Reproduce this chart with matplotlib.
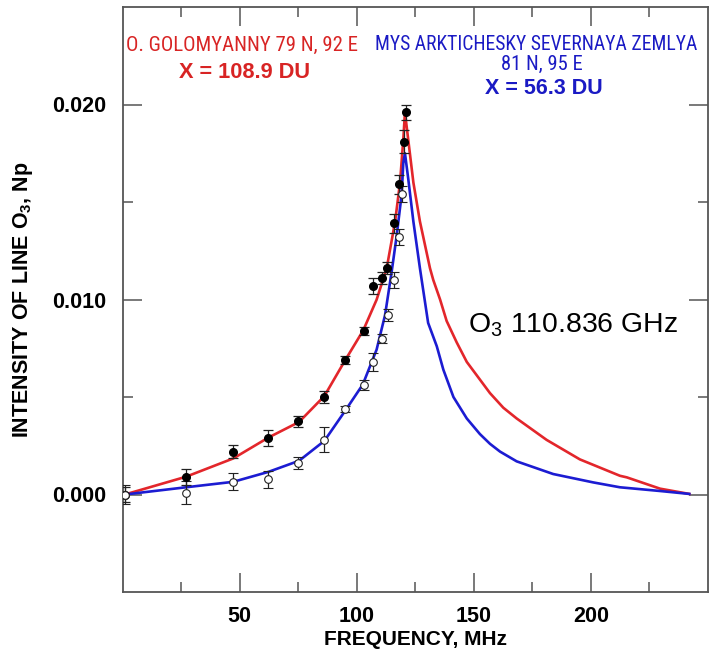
import matplotlib
matplotlib.use("Agg")
import matplotlib.pyplot as plt
from matplotlib import font_manager as fm
from matplotlib.ticker import FixedLocator

# ---------------- data ----------------
red_curve_x = [1, 27.1, 47.3, 62.3, 75.4, 86.2, 95.0, 102.8, 108.5, 112.8, 116.4, 118.5, 119.9, 120.6,
               122.0, 124.2, 127.0, 131.3, 132.7, 135.6, 138.4, 142.7, 147.0, 156.9, 162.6, 168.3,
               181.1, 195.3, 212.4, 215.3, 229.5, 242.0]
red_curve_y = [0.0, 0.00091, 0.00185, 0.00292, 0.00372, 0.00505, 0.00687, 0.00842, 0.00999, 0.0116,
               0.0140, 0.0160, 0.0182, 0.0196,
               0.0182, 0.0160, 0.0140, 0.0116, 0.0110, 0.0100, 0.0089, 0.0078, 0.0068, 0.0052,
               0.00445, 0.0039, 0.0028, 0.0018, 0.00096, 0.00088, 0.0003, 0.00003]

blue_curve_x = [1, 27.1, 47.3, 62.3, 75.4, 86.2, 95.0, 102.6, 108.5, 112.1, 114.9, 117.1, 119.2, 119.9,
                120.6, 122.0, 124.2, 127.0, 130.5, 134.2, 137.0, 141.3, 147.0, 152.6, 156.9, 161.2,
                168.3, 183.9, 201.0, 212.4, 229.5, 242.0]
blue_curve_y = [0.0, 0.00037, 0.00065, 0.00116, 0.00173, 0.00275, 0.00428, 0.00564, 0.00743, 0.0092,
                0.0114, 0.0133, 0.0154, 0.0170, 0.0175, 0.0162, 0.0140, 0.0116, 0.0088, 0.0076,
                0.0064, 0.0050, 0.0039, 0.0031, 0.0026, 0.0022, 0.0017, 0.00105, 0.00062, 0.00037,
                0.00018, 0.00003]

red_x = [1, 27, 47, 62, 75, 86, 95, 103, 107, 111, 113, 116, 118, 120, 121]
red_y = [0.0000, 0.0009, 0.0022, 0.0029, 0.00375, 0.0050, 0.0069, 0.0084, 0.0107, 0.0111, 0.0116,
         0.0139, 0.0159, 0.0181, 0.0196]
red_err = [0.0004, 0.0004, 0.00035, 0.0004, 0.0003, 0.0003, 0.0002, 0.0002, 0.0004, 0.0003, 0.0003,
           0.0005, 0.0005, 0.0006, 0.0004]

blue_x = [1, 27, 47, 62, 75, 86, 95, 103, 107, 111, 113.5, 116, 118, 119.5]
blue_y = [0.0000, 0.0001, 0.00065, 0.00078, 0.0016, 0.0028, 0.0044, 0.0056, 0.0068, 0.0080, 0.0092,
          0.0110, 0.0132, 0.0154]
blue_err = [0.0005, 0.0006, 0.00043, 0.00043, 0.0003, 0.00064, 0.00015, 0.00025, 0.00047, 0.00025,
            0.0003, 0.0004, 0.0004, 0.0004]

x_major = [50, 100, 150, 200]
x_minor = [25, 75, 125, 175, 225]
y_major = [0.000, 0.010, 0.020]
y_minor = [0.005, 0.015]
y_labels = ["0.000", "0.010", "0.020"]

# ---------------- fonts ----------------
def has_font(name):
    try:
        fm.findfont(fm.FontProperties(family=name), fallback_to_default=False)
        return True
    except Exception:
        return False

BASE = "Liberation Sans" if has_font("Liberation Sans") else "DejaVu Sans"
NARROW = BASE
for cand in ["Liberation Sans Narrow", "DejaVu Sans Condensed", "Roboto Condensed"]:
    if has_font(cand):
        NARROW = cand
        break

plt.rcParams["font.family"] = [BASE, "DejaVu Sans"]
plt.rcParams["mathtext.fontset"] = "custom"
plt.rcParams["mathtext.rm"] = BASE
plt.rcParams["mathtext.bf"] = BASE + ":bold"
plt.rcParams["mathtext.default"] = "regular"

RED = "#e3262b"
BLUE = "#1c1cd2"
RED_T = "#d82424"
BLUE_T = "#1a1ac4"

W, H = 709, 655
fig = plt.figure(figsize=(W / 100, H / 100), dpi=100)
L, R, T, B = 122.5, 708, 7, 592
ax = fig.add_axes([L / W, 1 - B / H, (R - L) / W, (B - T) / H])

ax.plot(red_curve_x, red_curve_y, color=RED, lw=1.9, zorder=2)
ax.plot(blue_curve_x, blue_curve_y, color=BLUE, lw=1.9, zorder=2)

ax.errorbar(red_x, red_y, yerr=red_err, fmt="o", ms=5.5, mfc="black", mec="black",
            ecolor="#222222", elinewidth=0.9, capsize=3.5, capthick=0.9, zorder=3)
ax.errorbar(blue_x, blue_y, yerr=blue_err, fmt="o", ms=5.5, mfc="white", mec="#222222", mew=0.8,
            ecolor="#222222", elinewidth=0.9, capsize=3.5, capthick=0.9, zorder=3)

ax.set_xlim(0, 250)
ax.set_ylim(-0.005, 0.025)
ax.xaxis.set_major_locator(FixedLocator(x_major))
ax.xaxis.set_minor_locator(FixedLocator(x_minor))
ax.yaxis.set_major_locator(FixedLocator(y_major))
ax.yaxis.set_minor_locator(FixedLocator(y_minor))
ax.set_yticklabels(y_labels)

for s in ax.spines.values():
    s.set_color("#555555")
    s.set_linewidth(1.3)
ax.tick_params(which="both", direction="in", top=True, right=True, color="#555555", width=1.1)
ax.tick_params(which="major", length=13.5)
ax.tick_params(which="minor", length=7)
ax.tick_params(axis="y", which="major", pad=12)
ax.tick_params(axis="x", which="major", pad=10)
for lab in ax.get_xticklabels() + ax.get_yticklabels():
    lab.set_fontweight("bold")
    lab.set_fontsize(15.5)

ax.set_xlabel("FREQUENCY, MHz", fontsize=15, fontweight="bold", labelpad=2)
ax.set_ylabel(r"INTENSITY OF LINE O$_\mathbf{3}$, Np", fontsize=15.5, fontweight="bold", labelpad=12)

# ---------------- annotations (pixel positions) ----------------
def ptext(px, py, s, width=None, size=12, **kw):
    t = fig.text(px / W, 1 - py / H, s, ha="center", va="center", fontsize=size, **kw)
    if width is not None:
        fig.canvas.draw()
        w = t.get_window_extent(fig.canvas.get_renderer()).width
        t.set_fontsize(size * width / w)
    return t

ptext(242, 45, "O. GOLOMYANNY 79 N, 92 E", width=234, size=14, color=RED_T, family=[NARROW, "DejaVu Sans"])
ptext(245, 72, "X = 108.9 DU", width=131, size=15, color=RED_T, fontweight="bold")
ptext(536, 45, "MYS ARKTICHESKY SEVERNAYA ZEMLYA", width=324, size=14, color=BLUE_T,
      family=[NARROW, "DejaVu Sans"])
ptext(542, 64, "81 N, 95 E", width=82, size=14, color=BLUE_T, family=[NARROW, "DejaVu Sans"])
ptext(544, 88, "X = 56.3 DU", width=118, size=15, color=BLUE_T, fontweight="bold")
ptext(573, 325, r"O$_3$ 110.836 GHz", width=210, size=20, color="black")

fig.savefig("out.png", dpi=100)
